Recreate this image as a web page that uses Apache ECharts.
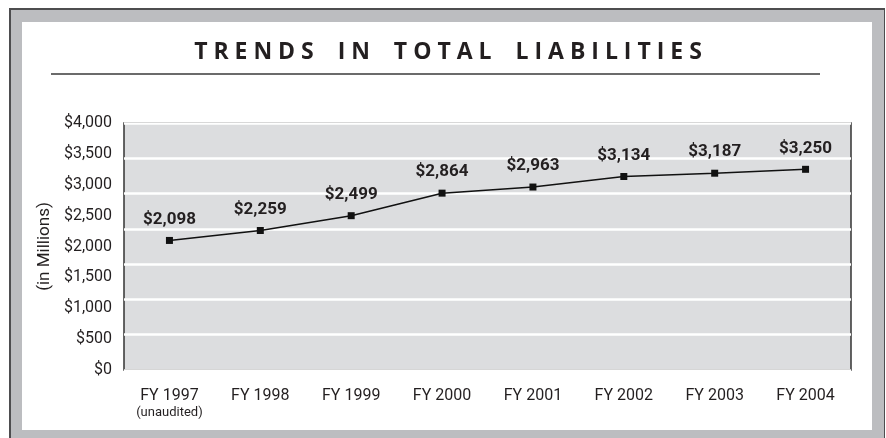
<!DOCTYPE html>
<html>
	<head>
		<meta charset="utf-8" />
		<title>Trends in Total Liabilities</title>
		<style>
			html, body { margin: 0; padding: 0; background: #fff; }
			#main { width: 886px; height: 438px; }
		</style>
	</head>
	<body>
		<div id="main"></div>

		<script type="text/javascript" src="https://cdn.jsdelivr.net/npm/echarts@6/dist/echarts.min.js"></script>
		<script type="text/javascript">
			// data
			var years = ['FY 1997', 'FY 1998', 'FY 1999', 'FY 2000', 'FY 2001', 'FY 2002', 'FY 2003', 'FY 2004'];
			var notes = ['(unaudited)', '', '', '', '', '', '', ''];
			var liabilities = [2098, 2259, 2499, 2864, 2963, 3134, 3187, 3250];
			var yTicks = [0, 500, 1000, 1500, 2000, 2500, 3000, 3500, 4000];

			var titleText = 'TRENDS IN TOTAL LIABILITIES';
			var labelFont = "Roboto, 'Liberation Sans', sans-serif";

			function money(v) {
				var s = String(Math.round(v));
				s = s.replace(/\B(?=(\d{3})+(?!\d))/g, ',');
				return '$' + s;
			}

			// spread letters out like the printed heading
			function spaced(t) {
				return t.split(' ').map(function (w) {
					return w.split('').join(' ');
				}).join('    ');
			}

			var myChart = echarts.init(document.getElementById('main'));

			var option = {
				backgroundColor: '#fff',
				animation: false,
				graphic: [
					// grey frame
					{ type: 'rect', z: -20, shape: { x: 10, y: 9, width: 874, height: 440 }, style: { fill: '#bcbdc0' } },
					{ type: 'line', z: -19, shape: { x1: 9, y1: 9, x2: 885, y2: 9 }, style: { stroke: '#4d4d4f', lineWidth: 2 } },
					{ type: 'line', z: -19, shape: { x1: 10, y1: 9, x2: 10, y2: 438 }, style: { stroke: '#4d4d4f', lineWidth: 2 } },
					{ type: 'line', z: -19, shape: { x1: 884.5, y1: 9, x2: 884.5, y2: 438 }, style: { stroke: '#4d4d4f', lineWidth: 1 } },
					{ type: 'rect', z: -18, shape: { x: 22, y: 22, width: 850, height: 408 }, style: { fill: '#fff' } },
					// heading
					{
						type: 'text', z: 5, x: 448, y: 52,
						style: {
							text: spaced(titleText),
							align: 'center', verticalAlign: 'middle',
							font: "bold 23px 'Open Sans', sans-serif",
							fill: '#231f20'
						}
					},
					{ type: 'line', z: 5, shape: { x1: 51, y1: 74, x2: 820, y2: 74 }, style: { stroke: '#3a3a3a', lineWidth: 1.5 } }
				],
				grid: {
					left: 124,
					right: 35,
					top: 123,
					bottom: 68,
					show: true,
					backgroundColor: '#dcdddf',
					borderColor: '#333',
					borderWidth: 1.5
				},
				xAxis: {
					type: 'category',
					data: years,
					boundaryGap: true,
					axisLine: { show: false },
					axisTick: { show: false },
					axisLabel: {
						interval: 0,
						margin: 17,
						color: '#231f20',
						fontFamily: labelFont,
						fontSize: 16,
						lineHeight: 18,
						formatter: function (v, i) {
							return notes[i] ? v + '\n{s|' + notes[i] + '}' : v;
						},
						rich: {
							s: { fontFamily: labelFont, fontSize: 13, lineHeight: 15, color: '#231f20' }
						}
					}
				},
				yAxis: [
					{
						type: 'value',
						min: yTicks[0],
						max: yTicks[yTicks.length - 1],
						interval: yTicks[1] - yTicks[0],
						name: '(in Millions)',
						nameLocation: 'middle',
						nameRotate: 90,
						nameGap: 70,
						nameTextStyle: { fontFamily: labelFont, fontSize: 17, color: '#231f20' },
						axisLine: { show: false },
						axisTick: { show: false },
						splitLine: { show: false },
						axisLabel: {
							margin: 12,
							color: '#231f20',
							fontFamily: labelFont,
							fontSize: 16,
							formatter: money
						}
					},
					{
						// the printed grid has 7 bands, not matching the labels
						type: 'value',
						min: 0,
						max: 7,
						interval: 1,
						position: 'left',
						axisLine: { show: false },
						axisTick: { show: false },
						axisLabel: { show: false },
						splitLine: { show: true, lineStyle: { color: '#fff', width: 2.5 } }
					}
				],
				series: [
					{
						name: 'Total Liabilities',
						type: 'line',
						yAxisIndex: 0,
						data: liabilities,
						symbol: 'rect',
						symbolSize: 7,
						itemStyle: { color: '#111' },
						lineStyle: { color: '#111', width: 1.5 },
						label: {
							show: true,
							position: 'top',
							distance: 9,
							fontFamily: labelFont,
							fontSize: 17,
							fontWeight: 'bold',
							color: '#231f20',
							formatter: function (p) { return money(p.value); }
						}
					}
				]
			};
			myChart.setOption(option);
		</script>
	</body>
</html>
